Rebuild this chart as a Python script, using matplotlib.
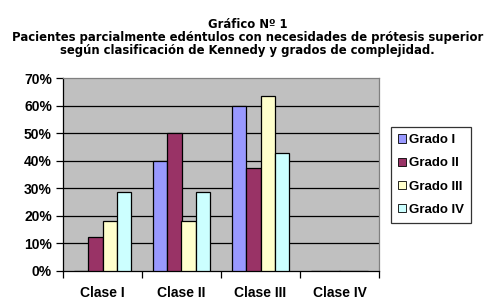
import numpy as np
import matplotlib.pyplot as plt
from matplotlib.patches import Patch
from matplotlib.ticker import FuncFormatter

# data (percent)
clases = ['Clase I', 'Clase II', 'Clase III', 'Clase IV']
grados = ['Grado I', 'Grado II', 'Grado III', 'Grado IV']
grado_1 = [0, 40, 60, 0]
grado_2 = [12.5, 50, 37.5, 0]
grado_3 = [18.2, 18.2, 63.6, 0]
grado_4 = [28.6, 28.6, 42.9, 0]
colors = ['#9999FF', '#993366', '#FFFFCC', '#CCFFFF']
title = ('Gráfico Nº 1\n'
         'Pacientes parcialmente edéntulos con necesidades de prótesis superior\n'
         'según clasificación de Kennedy y grados de complejidad.')

W, H = 485, 306
fig = plt.figure(figsize=(W / 100, H / 100), dpi=100)
fig.patch.set_facecolor('white')

# plot area in pixels
left, right, top, bottom = 63, 379, 78, 271
ax = fig.add_axes([left / W, 1 - bottom / H, (right - left) / W, (bottom - top) / H])
ax.set_facecolor('#C0C0C0')

x = np.arange(len(clases))
width = 1 / 5.5  # excel gap width 150%
series = [grado_1, grado_2, grado_3, grado_4]
for i, vals in enumerate(series):
    ax.bar(x + (i - 1.5) * width, vals, width, color=colors[i],
           edgecolor='black', linewidth=0.9, zorder=3)

ax.set_xlim(-0.5, 3.5)
ax.set_ylim(0, 70)
ax.set_yticks(range(0, 71, 10))
ax.yaxis.set_major_formatter(FuncFormatter(lambda v, p: f'{int(v)}%'))
for yv in range(10, 70, 10):
    ax.axhline(yv, color='black', linewidth=0.9, zorder=1)

ax.set_xticks(x)
ax.set_xticklabels(clases)
ax.set_xticks(np.arange(-0.5, 4, 1), minor=True)
ax.tick_params(axis='x', which='major', length=0, pad=11)
ax.tick_params(axis='x', which='minor', length=5, width=0.9, color='black')
ax.tick_params(axis='y', length=5, width=0.9, color='black', pad=3)
for lab in ax.get_xticklabels() + ax.get_yticklabels():
    lab.set_fontfamily('Liberation Sans')
    lab.set_fontweight('bold')
    lab.set_fontsize(10)

ax.spines['top'].set_color('#808080')
ax.spines['right'].set_color('#808080')
ax.spines['left'].set_color('black')
ax.spines['bottom'].set_color('black')
for s in ax.spines.values():
    s.set_linewidth(0.9)

handles = [Patch(facecolor=c, edgecolor='black', linewidth=0.6, label=g)
           for c, g in zip(colors, grados)]
leg = fig.legend(handles=handles, loc='upper left',
                 bbox_to_anchor=(391 / W, 1 - 127 / H),
                 prop={'family': 'Liberation Sans', 'weight': 'bold', 'size': 9.5},
                 frameon=True, fancybox=False, shadow=False,
                 handlelength=0.6, handleheight=0.6, handletextpad=0.2,
                 labelspacing=0.85, borderpad=0.55, borderaxespad=0)
leg.get_frame().set_edgecolor('black')
leg.get_frame().set_linewidth(0.9)

fig.text(0.5 + 5 / W, 1 - 18 / H, title, ha='center', va='top',
         fontsize=8.35, fontweight='bold', family='DejaVu Sans', linespacing=0.98)

fig.savefig('out.png', dpi=100)
